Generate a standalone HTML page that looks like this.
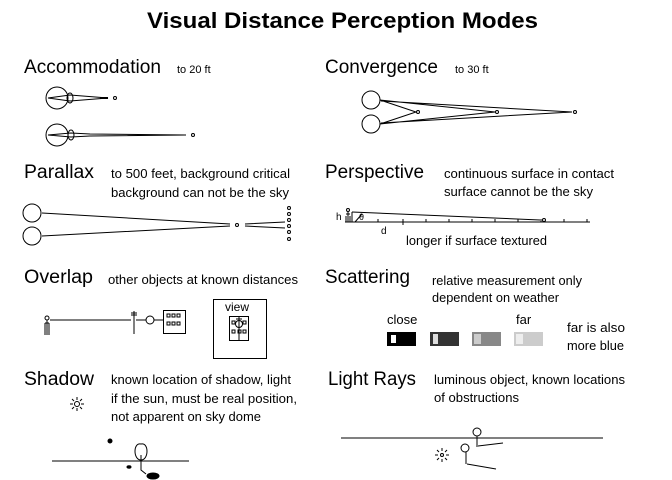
<!DOCTYPE html>
<html><head><style>body{margin:0;background:#fff}svg{display:block}text{font-family:"Liberation Sans",sans-serif;fill:#000}</style></head><body>
<svg width="672" height="480" viewBox="0 0 672 480" xmlns="http://www.w3.org/2000/svg" stroke="#000" fill="none" stroke-width="1">
<g stroke="none">
<text x="147" y="28" font-size="22" font-weight="bold" textLength="391" lengthAdjust="spacingAndGlyphs">Visual Distance Perception Modes</text>
<g font-size="19">
<text x="24" y="73" textLength="137" lengthAdjust="spacingAndGlyphs">Accommodation</text>
<text x="325" y="73" textLength="113" lengthAdjust="spacingAndGlyphs">Convergence</text>
<text x="24" y="178" textLength="70" lengthAdjust="spacingAndGlyphs">Parallax</text>
<text x="325" y="178" textLength="99" lengthAdjust="spacingAndGlyphs">Perspective</text>
<text x="24" y="283" textLength="69" lengthAdjust="spacingAndGlyphs">Overlap</text>
<text x="325" y="283" textLength="85" lengthAdjust="spacingAndGlyphs">Scattering</text>
<text x="24" y="385" textLength="70" lengthAdjust="spacingAndGlyphs">Shadow</text>
<text x="328" y="385" textLength="88" lengthAdjust="spacingAndGlyphs">Light Rays</text>
</g>
<text x="177" y="73" font-size="11">to 20 ft</text>
<text x="455" y="73" font-size="11">to 30 ft</text>
<g font-size="13">
<text x="111" y="178" textLength="179" lengthAdjust="spacingAndGlyphs">to 500 feet, background critical</text>
<text x="111" y="197" textLength="178" lengthAdjust="spacingAndGlyphs">background can not be the sky</text>
<text x="444" y="178" textLength="170" lengthAdjust="spacingAndGlyphs">continuous surface in contact</text>
<text x="444" y="196" textLength="149" lengthAdjust="spacingAndGlyphs">surface cannot be the sky</text>
<text x="406" y="245" textLength="141" lengthAdjust="spacingAndGlyphs">longer if surface textured</text>
<text x="108" y="284" textLength="190" lengthAdjust="spacingAndGlyphs">other objects at known distances</text>
<text x="432" y="285" textLength="150" lengthAdjust="spacingAndGlyphs">relative measurement only</text>
<text x="432" y="302" textLength="127" lengthAdjust="spacingAndGlyphs">dependent on weather</text>
<text x="387" y="324">close</text>
<text x="516" y="324">far</text>
<text x="567" y="332" textLength="58" lengthAdjust="spacingAndGlyphs">far is also</text>
<text x="567" y="350" textLength="57" lengthAdjust="spacingAndGlyphs">more blue</text>
<text x="111" y="384" textLength="180" lengthAdjust="spacingAndGlyphs">known location of shadow, light</text>
<text x="111" y="403" textLength="186" lengthAdjust="spacingAndGlyphs">if the sun, must be real position,</text>
<text x="111" y="421" textLength="150" lengthAdjust="spacingAndGlyphs">not apparent on sky dome</text>
<text x="434" y="384" textLength="191" lengthAdjust="spacingAndGlyphs">luminous object, known locations</text>
<text x="434" y="402" textLength="85" lengthAdjust="spacingAndGlyphs">of obstructions</text>
</g>
<text x="225" y="311" font-size="12">view</text>
<text x="336" y="220" font-size="10">h</text>
<text x="359" y="220" font-size="9">θ</text>
<text x="381" y="234" font-size="10">d</text>
</g>
<!-- Accommodation -->
<circle cx="57" cy="98" r="11"/><ellipse cx="70" cy="98" rx="3" ry="5"/>
<path d="M48 98 L70 95 L108 98 L70 101 Z"/><line x1="100" y1="98" x2="108" y2="98" stroke-width="2"/>
<circle cx="115" cy="98" r="1.5"/>
<circle cx="57" cy="135" r="11"/><ellipse cx="71" cy="135" rx="3" ry="5"/>
<path d="M48 135 L71 133 L90 134 L186 135 L90 136 L71 137 Z"/><circle cx="193" cy="135" r="1.5"/>
<!-- Convergence -->
<circle cx="371" cy="100" r="9"/><circle cx="371" cy="124" r="9"/>
<path d="M380 100 L416 112 L380 124 M380 100 L495 112 L380 124 M381 101 L572 112 L381 123"/>
<circle cx="418" cy="112" r="1.5"/><circle cx="497" cy="112" r="1.5"/><circle cx="575" cy="112" r="1.5"/>
<!-- Parallax -->
<circle cx="32" cy="213" r="9"/><circle cx="32" cy="236" r="9"/>
<path d="M42 213 L230 224 M42 236 L230 226 M245 224 L285 222 M245 226 L285 228"/>
<circle cx="237" cy="225" r="1.5"/>
<g><circle cx="289" cy="208" r="1.5"/><circle cx="289" cy="214" r="1.5"/><circle cx="289" cy="220" r="1.5"/><circle cx="289" cy="226" r="1.5"/><circle cx="289" cy="232" r="1.5"/><circle cx="289" cy="239" r="1.5"/></g>
<!-- Perspective -->
<line x1="345" y1="222" x2="590" y2="222"/>
<path d="M352 212 L540 220 M355 222 L362 214"/>
<circle cx="544" cy="220" r="1.5"/>
<circle cx="348" cy="210" r="1.5"/><path d="M348 212 V222 M346 214 H350 M346 222 V216 M350 222 V216 M352 212 V222"/>
<path d="M378 222 v-3 M403 222 v-3 M426 222 v-3 M449 222 v-3 M472 222 v-3 M495 222 v-3 M518 222 v-3 M541 222 v-3 M564 222 v-3 M587 222 v-3 M403 222 v3"/>
<!-- Overlap -->
<circle cx="47" cy="318" r="2"/><path d="M47 320 V335 M45 323 V335 M49 323 V335 M45 323 H49"/>
<line x1="50" y1="320" x2="131" y2="320"/>
<path d="M134 311 V334 M131 313 H137 M131 315 H137 M136 320 H146 M154 320 H163"/>
<circle cx="150" cy="320" r="4"/>
<rect x="163.5" y="310.5" width="22" height="23"/>
<rect x="167" y="314" width="3" height="3"/><rect x="172" y="314" width="3" height="3"/><rect x="177" y="314" width="3" height="3"/><rect x="167" y="322" width="3" height="3"/><rect x="172" y="322" width="3" height="3"/><rect x="177" y="322" width="3" height="3"/>
<rect x="213.5" y="299.5" width="53" height="59"/>
<rect x="229.5" y="316.5" width="19" height="24"/>
<path d="M239 316 V340 M236 319 H242"/><circle cx="239" cy="324" r="3.5"/>
<rect x="232" y="321" width="3" height="3"/><rect x="243" y="321" width="3" height="3"/><rect x="232" y="330" width="3" height="3"/><rect x="238" y="330" width="3" height="3"/><rect x="243" y="330" width="3" height="3"/>
<!-- Scattering -->
<rect x="387" y="332" width="29" height="14" fill="#000" stroke="none"/><rect x="391" y="335" width="5" height="8" fill="#fff" stroke="none"/>
<rect x="430" y="332" width="29" height="14" fill="#333" stroke="none"/><rect x="433" y="334" width="5" height="10" fill="#ddd" stroke="none"/>
<rect x="472" y="332" width="29" height="14" fill="#888" stroke="none"/><rect x="474" y="334" width="7" height="10" fill="#ccc" stroke="none"/>
<rect x="514" y="332" width="29" height="14" fill="#ccc" stroke="none"/><rect x="516" y="334" width="7" height="10" fill="#eee" stroke="none"/>
<!-- Shadow -->
<g transform="translate(77,404)"><circle r="2.5"/><path d="M0 -7 V-4 M0 4 V7 M-7 0 H-4 M4 0 H7 M-5 -5 L-3 -3 M3 3 L5 5 M-5 5 L-3 3 M3 -3 L5 -5"/></g>
<circle cx="110" cy="441" r="2" fill="#000"/>
<line x1="52" y1="461" x2="189" y2="461"/>
<path d="M141 460 C133 460 133 442 141 444 C149 442 149 460 141 460 Z"/><path d="M141 455 V470 L146 474"/>
<ellipse cx="153" cy="476" rx="6" ry="3" fill="#000"/>
<ellipse cx="129" cy="467" rx="2" ry="1.2" fill="#000"/>
<!-- Light Rays -->
<line x1="341" y1="438" x2="603" y2="438"/>
<circle cx="477" cy="432" r="4"/><path d="M477 436 V447 M478 446 L503 443"/>
<circle cx="465" cy="448" r="4"/><path d="M466 452 V464 M467 464 L496 469"/>
<g transform="translate(442,455)"><circle r="1.5"/><path d="M0 -7 V-4 M0 4 V7 M-7 0 H-4 M4 0 H7 M-5 -5 L-3 -3 M3 3 L5 5 M-5 5 L-3 3 M3 -3 L5 -5"/></g>
</svg>
</body></html>
